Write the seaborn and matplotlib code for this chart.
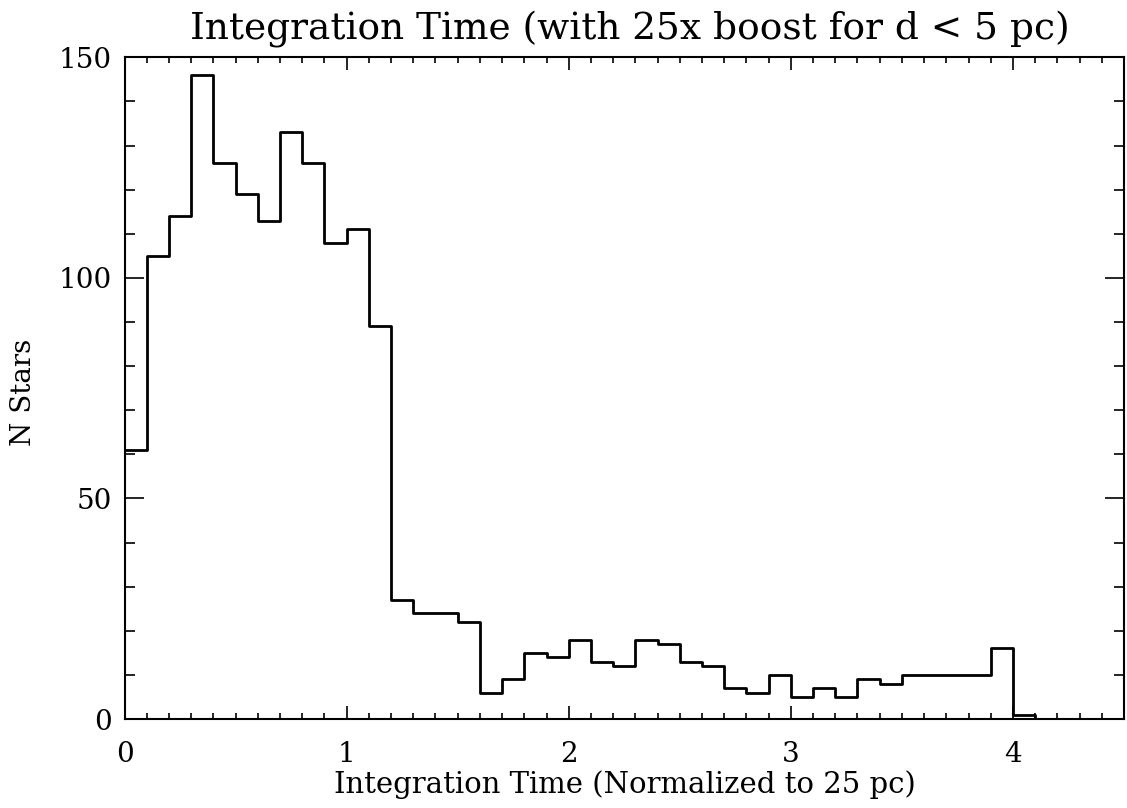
"""
Integration time histogram (IDL-style step plot)
"""
import matplotlib
matplotlib.use("Agg")
import matplotlib.pyplot as plt
from matplotlib.ticker import MultipleLocator
import numpy as np
import pandas as pd
import seaborn as sns

# histogram counts, bins of 0.1 starting at 0
bin_width = 0.1
counts = [61, 105, 114, 146, 126, 119, 113, 133, 126, 108,
          111, 89, 27, 24, 24, 22, 6, 9, 15, 14,
          18, 13, 12, 18, 17, 13, 12, 7, 6, 10,
          5, 7, 5, 9, 8, 10, 10, 10, 10, 16,
          1, 0]

title = "Integration Time (with 25x boost for d < 5 pc)"
xlabel = "Integration Time (Normalized to 25 pc)"
ylabel = "N Stars"

sns.set_style("ticks")
plt.rcParams["font.family"] = ["DejaVu Serif"]
plt.rcParams["text.color"] = "black"

edges = np.arange(len(counts) + 1) * bin_width
edges[-1] -= bin_width / 2  # last bin drawn half width, like psym=10
df = pd.DataFrame({"t": (edges[:-1] + edges[1:]) / 2, "n": counts})

fig = plt.figure(figsize=(11.27, 8.08), dpi=100)
ax = fig.add_axes([124.5 / 1127, 1 - 719 / 808, 999.5 / 1127, 661.7 / 808])

sns.histplot(data=df, x="t", weights="n", bins=list(edges), element="step",
             fill=False, color="black", linewidth=2, ax=ax)

ax.set_xlim(0, 4.5)
ax.set_ylim(0, 150)
ax.xaxis.set_major_locator(MultipleLocator(1))
ax.xaxis.set_minor_locator(MultipleLocator(0.1))
ax.yaxis.set_major_locator(MultipleLocator(50))
ax.yaxis.set_minor_locator(MultipleLocator(10))

ax.tick_params(axis="both", which="both", direction="in", top=True, right=True,
               width=1.2, color="black", labelcolor="black", labelsize=20)
ax.tick_params(axis="x", which="major", length=9.5, pad=16)
ax.tick_params(axis="x", which="minor", length=4.5)
ax.tick_params(axis="y", which="major", length=14, pad=9)
ax.tick_params(axis="y", which="minor", length=7)
for sp in ax.spines.values():
    sp.set_linewidth(1.5)
    sp.set_color("black")

ax.set_xlabel("")
ax.set_ylabel("")
fig.text(625 / 1127, 1 - 793 / 808, xlabel, fontsize=21, ha="center", va="baseline")
fig.text(24 / 1127, 1 - 392 / 808, ylabel, fontsize=20, rotation=90,
         ha="center", va="center")
fig.text(630 / 1127, 1 - 40 / 808, title, fontsize=27, ha="center", va="baseline")

plt.savefig("out.png", dpi=100)
